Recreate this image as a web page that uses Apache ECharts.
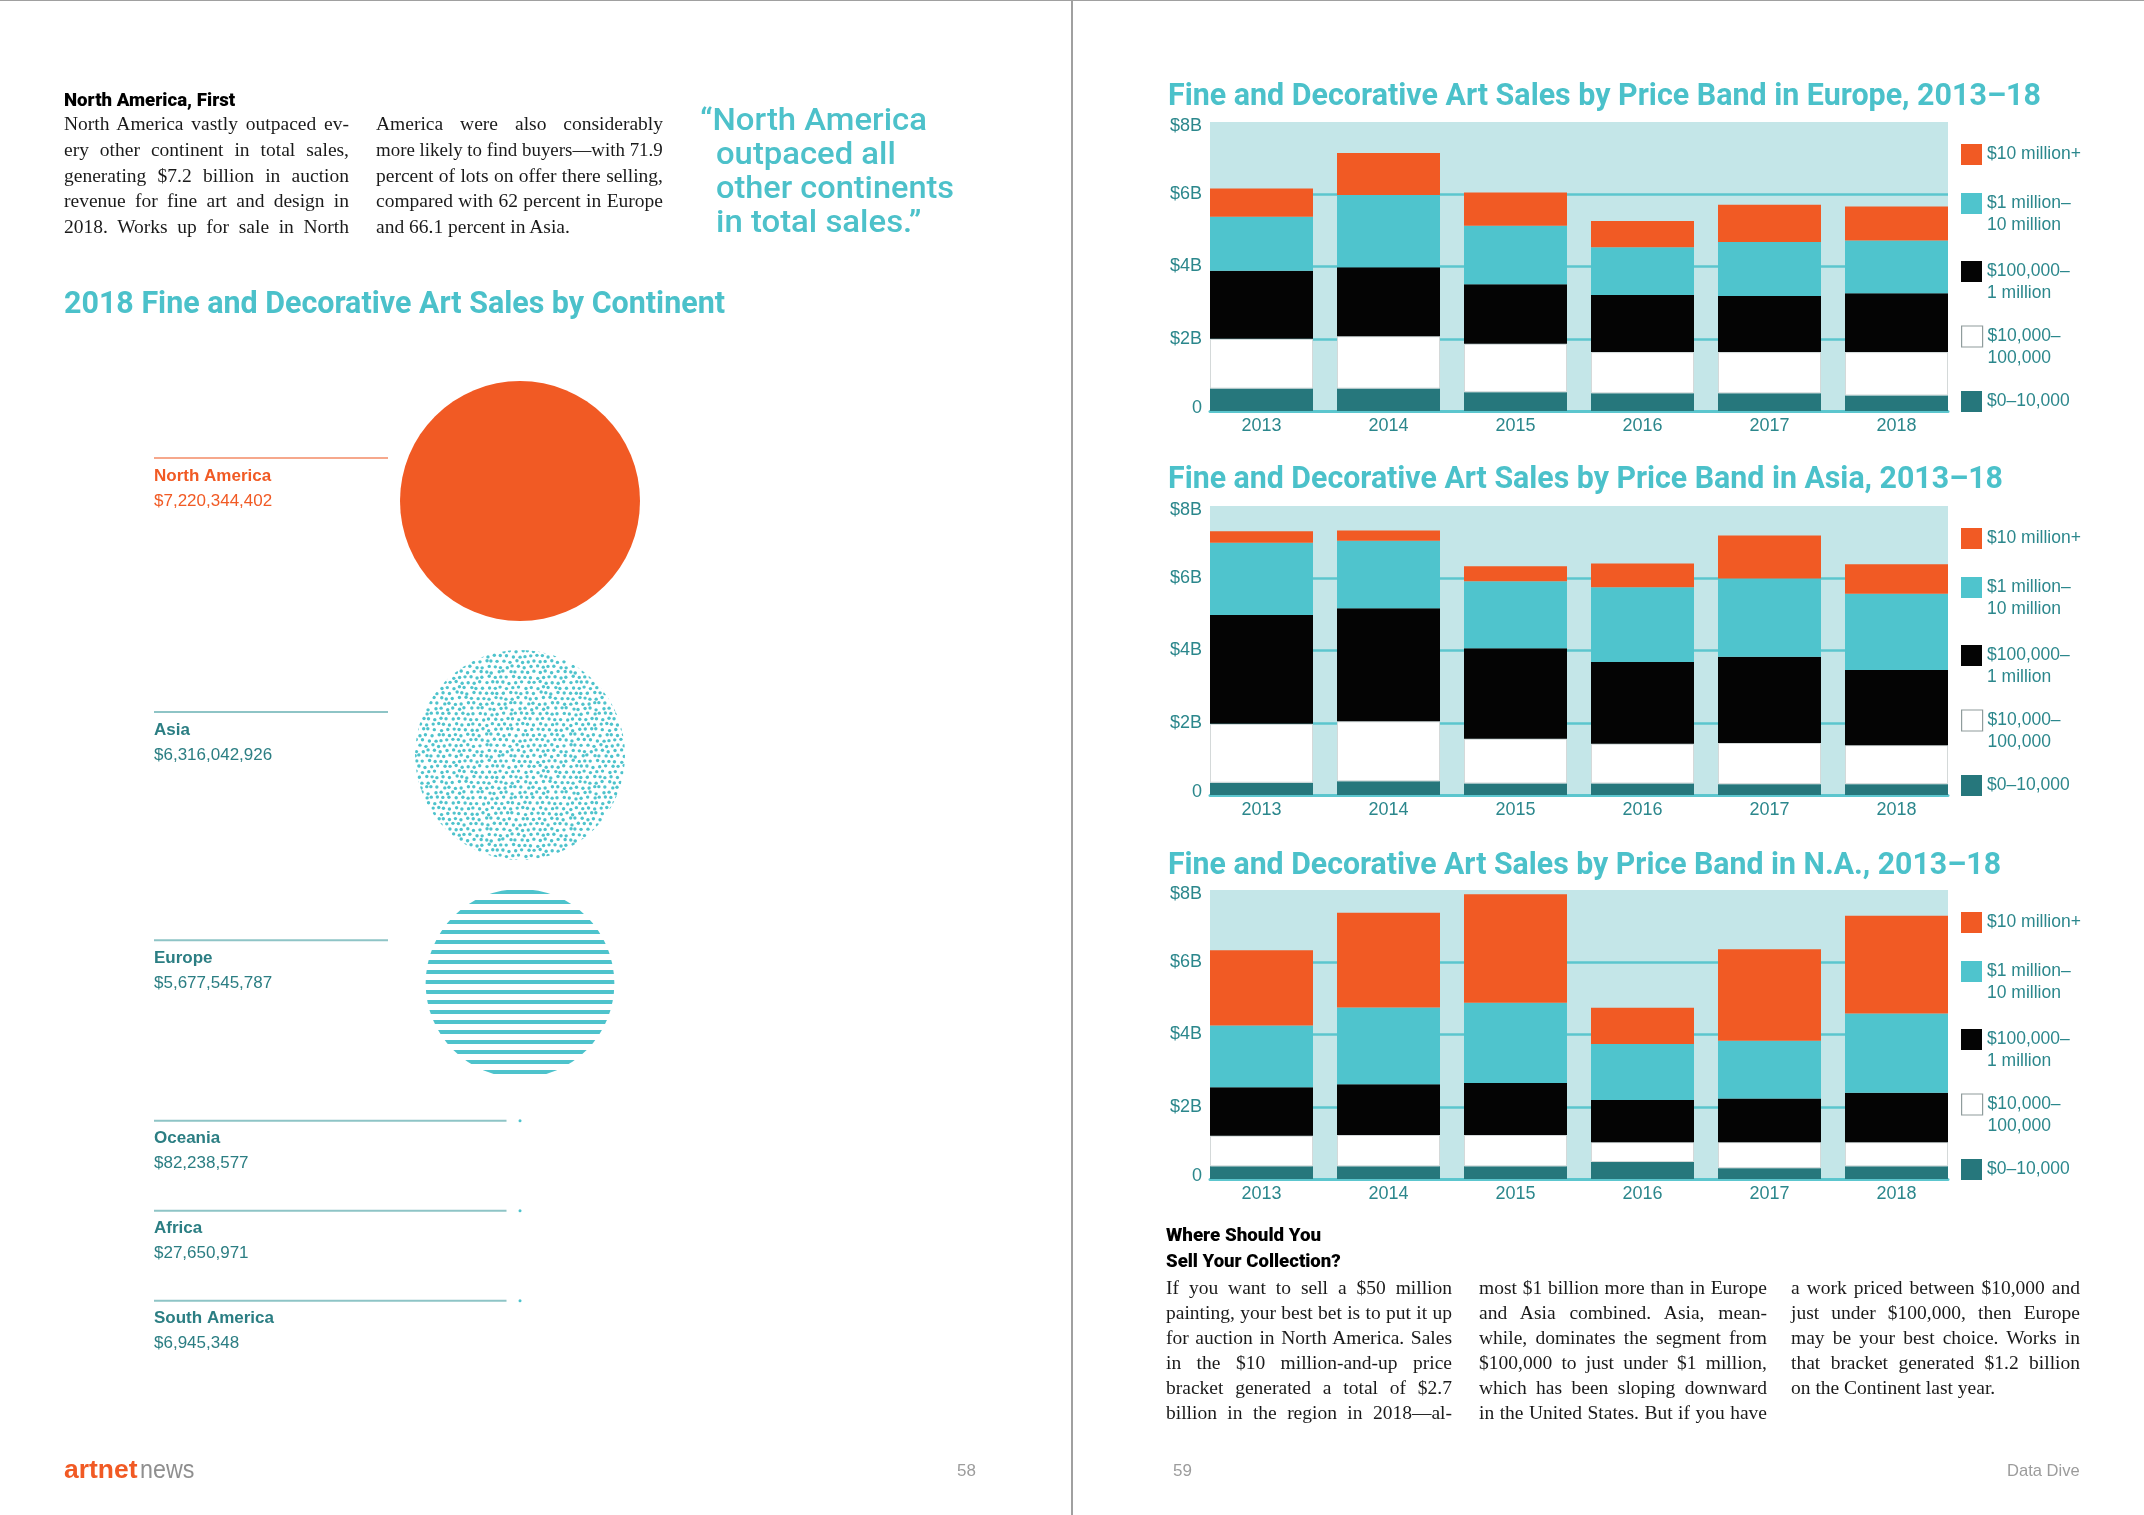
<!DOCTYPE html>
<html><head><meta charset="utf-8">
<script src="https://cdn.jsdelivr.net/npm/echarts@6/dist/echarts.min.js"></script>
<style>
html,body{margin:0;padding:0;background:#fff;}
#page{position:relative;width:2144px;height:1515px;overflow:hidden;background:#fff;}
#chart{position:absolute;left:0;top:0;width:2144px;height:1515px;}
.ln{position:absolute;font-family:'Liberation Serif','Times New Roman',serif;font-size:19.5px;color:#1a1a1a;text-align:justify;white-space:normal;}
.fit{position:absolute;white-space:nowrap;transform-origin:0 50%;}
.hd{font-family:Roboto,'Liberation Sans',sans-serif;font-weight:900;font-size:19px;color:#000;}
.qt{font-family:Roboto,'Liberation Sans',Arial,sans-serif;font-weight:500;font-size:31px;color:#4DC1CA;}
.ft{font-family:'Liberation Sans',Arial,sans-serif;font-size:17px;color:#9c9c9c;}
#spine{position:absolute;left:1071px;top:0;width:2px;height:1515px;background:#a0a0a0;}
#topline{position:absolute;left:0;top:0;width:2144px;height:1px;background:#a0a0a0;}
</style>
</head>
<body>
<div id="page">
  <div id="chart"></div>
  <div id="spine"></div>
  <div id="topline"></div>
</div>
<script>
// ---------------- DATA ----------------
const years = ['2013', '2014', '2015', '2016', '2017', '2018'];
const bandNames = ['$0–10,000', '$10,000–100,000', '$100,000–1 million', '$1 million–10 million', '$10 million+'];
const yTickLabels = ['0', '$2B', '$4B', '$6B', '$8B'];

// Europe, billions USD
const europe0to10k    = [0.62, 0.62, 0.52, 0.49, 0.49, 0.43];
const europe10kto100k = [1.38, 1.45, 1.34, 1.14, 1.14, 1.20];
const europe100kto1m  = [1.88, 1.91, 1.65, 1.58, 1.55, 1.63];
const europe1mto10m   = [1.50, 2.00, 1.62, 1.32, 1.50, 1.46];
const europe10mPlus   = [0.78, 1.16, 0.92, 0.73, 1.03, 0.94];
// Asia
const asia0to10k    = [0.34, 0.38, 0.32, 0.32, 0.30, 0.30];
const asia10kto100k = [1.63, 1.66, 1.24, 1.10, 1.14, 1.08];
const asia100kto1m  = [3.01, 3.13, 2.50, 2.26, 2.39, 2.08];
const asia1mto10m   = [2.00, 1.87, 1.86, 2.07, 2.16, 2.11];
const asia10mPlus   = [0.32, 0.28, 0.41, 0.66, 1.19, 0.82];
// North America
const na0to10k    = [0.35, 0.35, 0.35, 0.47, 0.30, 0.35];
const na10kto100k = [0.85, 0.87, 0.87, 0.55, 0.72, 0.67];
const na100kto1m  = [1.34, 1.40, 1.44, 1.17, 1.21, 1.37];
const na1mto10m   = [1.71, 2.13, 2.22, 1.55, 1.60, 2.19];
const na10mPlus   = [2.08, 2.62, 3.00, 1.00, 2.53, 2.71];

const regionTitles = [
  'Fine and Decorative Art Sales by Price Band in Europe, 2013–18',
  'Fine and Decorative Art Sales by Price Band in Asia, 2013–18',
  'Fine and Decorative Art Sales by Price Band in N.A., 2013–18'
];

const continents = ['North America', 'Asia', 'Europe', 'Oceania', 'Africa', 'South America'];
const continentSales = [7220344402, 6316042926, 5677545787, 82238577, 27650971, 6945348];

// ---------------- STYLE / LAYOUT ----------------
const regionBands = [
  [europe0to10k, europe10kto100k, europe100kto1m, europe1mto10m, europe10mPlus],
  [asia0to10k, asia10kto100k, asia100kto1m, asia1mto10m, asia10mPlus],
  [na0to10k, na10kto100k, na100kto1m, na1mto10m, na10mPlus]
];
const bandColors = ['#26777C', '#FFFFFF', '#040404', '#4FC4CD', '#F15A24'];
const bandLegendText = {
  '$0–10,000': '$0–10,000',
  '$10,000–100,000': '\n$10,000–\n100,000',
  '$100,000–1 million': '\n$100,000–\n1 million',
  '$1 million–10 million': '\n$1 million–\n10 million',
  '$10 million+': '$10 million+'
};
const teal = '#2B878C';
const titleCyan = '#4BC1CA';
const bgBlue = '#C4E6E8';
const gridCyan = '#5CC6CE';
const sansFont = "'Liberation Sans', Arial, sans-serif";

const plotLeft = 1210, plotW = 738, plotH = 289;
const chartTops = [122, 506, 890];
const barW = 103, barGap = 24;
const pitch = barW + barGap;
const dataLeft = plotLeft - barGap / 2, dataW = pitch * years.length;
const titleY = [97, 480, 866];
const titleW = [873, 835, 833];
const legendLeft = 1961;
const legendOffsets = [269, 204, 139, 71, 22]; // by band index (bottom band lowest)

const mctx = document.createElement('canvas').getContext('2d');
function fitScale(text, font, w) { mctx.font = font; return w / mctx.measureText(text).width; }
const titleFont = "bold 32px Roboto, 'Liberation Sans', sans-serif";
function titleEl(text, x, y, w) {
  return { type: 'text', x: x, y: y, scaleX: fitScale(text, titleFont, w), z: 10,
    style: { text: text, font: titleFont, fill: titleCyan, verticalAlign: 'middle' } };
}

const grids = [], xAxes = [], yAxes = [], series = [], legends = [], graphics = [];
chartTops.forEach((top, r) => {
  grids.push({ left: plotLeft, top: top, width: plotW, height: plotH, show: true,
    backgroundColor: bgBlue, borderWidth: 0, containLabel: false });
  xAxes.push({ type: 'category', gridIndex: grids.length - 1, data: years,
    axisLine: { show: true, lineStyle: { color: gridCyan, width: 3 } },
    axisTick: { show: false }, axisLabel: { show: false }, splitLine: { show: false } });
  yAxes.push({ type: 'value', gridIndex: grids.length - 1, min: 0, max: 8, interval: 2,
    axisLine: { show: false }, axisTick: { show: false },
    axisLabel: { color: teal, fontSize: 18, fontFamily: sansFont, margin: 8,
      formatter: v => {
        const i = Math.round(v / 2);
        if (i === 0) return '{lo|' + yTickLabels[i] + '}';
        if (i === yTickLabels.length - 1) return '{hi|' + yTickLabels[i] + '}';
        return yTickLabels[i];
      },
      rich: {
        lo: { color: teal, fontSize: 18, fontFamily: sansFont, padding: [0, 0, 6, 0] },
        hi: { color: teal, fontSize: 18, fontFamily: sansFont, padding: [8, 0, 0, 0] }
      } },
    splitLine: { show: true, lineStyle: { color: [gridCyan, gridCyan, gridCyan, gridCyan, 'rgba(0,0,0,0)'], width: 2.5 } } });
  grids.push({ left: dataLeft, top: top, width: dataW, height: plotH, show: false, containLabel: false });
  const gi = grids.length - 1;
  xAxes.push({ type: 'category', gridIndex: gi, data: years,
    axisLine: { show: false }, axisTick: { show: false },
    axisLabel: { color: teal, fontSize: 18, fontFamily: sansFont, margin: 6 } });
  yAxes.push({ type: 'value', gridIndex: gi, min: 0, max: 8, show: false });
  regionBands[r].forEach((vals, b) => {
    series.push({ type: 'bar', name: bandNames[b], xAxisIndex: xAxes.length - 1, yAxisIndex: yAxes.length - 1,
      stack: 'r' + r, barWidth: barW, data: vals,
      itemStyle: b === 1 ? { color: bandColors[b], borderColor: '#d4d9d9', borderWidth: 1 } : { color: bandColors[b] },
      silent: true, animation: false, z: 3 });
    const twoLine = bandLegendText[bandNames[b]].indexOf('\n') >= 0;
    const iconTop = top + legendOffsets[b];
    legends.push({ left: legendLeft, top: twoLine ? iconTop - 22.5 : iconTop - 0.5, padding: 0,
      selectedMode: false, icon: 'rect', itemWidth: 21, itemHeight: 21,
      data: [{ name: bandNames[b], itemStyle: b === 1 ? { borderColor: '#8f9c9c', borderWidth: 1.2 } : { borderWidth: 0 } }],
      formatter: n => bandLegendText[n],
      textStyle: { color: teal, fontSize: 17.5, fontFamily: sansFont, lineHeight: 22 } });
  });
  graphics.push(titleEl(regionTitles[r], 1168, titleY[r], titleW[r]));
});
graphics.push(titleEl('2018 Fine and Decorative Art Sales by Continent', 64, 305, 661));

// ---------- continent circles ----------
function makeDots() {
  const c = document.createElement('canvas'); const S = 84; c.width = S; c.height = S;
  const g = c.getContext('2d'); g.fillStyle = '#4EC3CC';
  const cols = 14, rows = 16, sx = S / cols, sy = S / rows;
  for (let j = 0; j < rows; j++) for (let i = 0; i < cols; i++) {
    const h1 = Math.sin(i * 12.9898 + j * 78.233) * 43758.5453; const h2 = Math.sin(i * 39.346 + j * 11.135) * 24634.6345;
    const jx = (h1 - Math.floor(h1) - 0.5) * 2.4, jy = (h2 - Math.floor(h2) - 0.5) * 2.2;
    const x = (i + (j % 2 ? 0.5 : 0)) * sx + jx, y = j * sy + jy;
    for (const ox of [-S, 0, S]) for (const oy of [-S, 0, S]) { g.beginPath(); g.arc(x + ox, y + oy, 1.7, 0, Math.PI * 2); g.fill(); }
  }
  return c;
}
function makeStripes() {
  const c = document.createElement('canvas'); c.width = 8; c.height = 10;
  const g = c.getContext('2d'); g.fillStyle = '#4EC3CC'; g.fillRect(0, 0, 8, 4); return c;
}
const fillByContinent = {
  'North America': '#F15A24',
  'Asia': { image: makeDots(), repeat: 'repeat' },
  'Europe': { image: makeStripes(), repeat: 'repeat' }
};
const smallFill = '#4EC3CC';
const circleCX = 520, circleTop = 381, circleMaxD = 240, rowMin = 28, rowGap = 29, minPitch = 90, bigD = 60;
const labelX = 154, lineEndMax = 388, lineOffset = 43;
const maxSale = Math.max(...continentSales);
const diam = continentSales.map(v => Math.max(3, v / maxSale * circleMaxD));
const centerY = [];
diam.forEach((d, i) => {
  if (i === 0) centerY.push(circleTop + d / 2);
  else centerY.push(centerY[i - 1] + Math.max(Math.max(diam[i - 1], rowMin) / 2 + Math.max(d, rowMin) / 2 + rowGap, minPitch));
});

series.push({
  type: 'custom', coordinateSystem: 'none', silent: true, animation: false,
  data: continentSales.map((v, i) => [i, v]),
  renderItem: function (params, api) {
    const i = api.value(0), v = api.value(1);
    const d = Math.max(3, v / maxSale * circleMaxD), r = d / 2;
    const cy = centerY[i];
    const big = d > bigD;
    const ly = cy - (big ? lineOffset : 0);
    const isNA = continents[i] === 'North America';
    const txt = isNA ? '#F15A24' : '#2B7E83';
    const lineC = isNA ? '#F6A88C' : '#8EC4C6';
    const fill = fillByContinent[continents[i]] || smallFill;
    return { type: 'group', children: [
      { type: 'circle', shape: { cx: circleCX, cy: cy, r: r }, style: { fill: fill } },
      { type: 'line', shape: { x1: labelX, y1: ly, x2: big ? lineEndMax : circleCX - r - 12, y2: ly },
        style: { stroke: lineC, lineWidth: 2 } },
      { type: 'text', x: labelX, y: ly + 18, style: { text: continents[i], fill: txt,
        font: "bold 17px 'Liberation Sans', Arial, sans-serif", verticalAlign: 'middle' } },
      { type: 'text', x: labelX, y: ly + 43, style: { text: '$' + v.toLocaleString('en-US'), fill: txt,
        font: "17px 'Liberation Sans', Arial, sans-serif", verticalAlign: 'middle' } }
    ] };
  }
});

const chart = echarts.init(document.getElementById('chart'));
chart.setOption({
  animation: false,
  backgroundColor: 'transparent',
  grid: grids, xAxis: xAxes, yAxis: yAxes, series: series, legend: legends,
  graphic: { elements: graphics }
});

// ---------------- HTML TEXT ----------------
const page = document.getElementById('page');
function fitEl(text, cls, x, cy, w, lh) {
  const d = document.createElement('div'); d.className = 'fit ' + cls; d.textContent = text;
  d.style.left = x + 'px'; d.style.lineHeight = lh + 'px'; d.style.top = (cy - lh / 2) + 'px';
  page.appendChild(d);
  if (w) { const nat = d.offsetWidth; d.style.transform = 'scaleX(' + (w / nat) + ')'; }
  return d;
}
function para(lines, x, top, lh, w, lastLeft) {
  lines.forEach((t, i) => {
    const d = document.createElement('div'); d.className = 'ln'; d.textContent = t;
    d.style.left = x + 'px'; d.style.top = (top + i * lh) + 'px'; d.style.lineHeight = lh + 'px';
    page.appendChild(d);
    d.style.whiteSpace = 'nowrap';
    const nat = d.offsetWidth;
    const last = lastLeft && i === lines.length - 1;
    if (nat > w) { d.style.transformOrigin = '0 50%'; d.style.transform = 'scaleX(' + (w / nat) + ')'; }
    else { d.style.whiteSpace = 'normal'; d.style.width = w + 'px'; d.style.textAlignLast = last ? 'left' : 'justify'; }
  });
}
fitEl('North America, First', 'hd', 64, 100, 171, 24);
para(['North America vastly outpaced ev-', 'ery other continent in total sales,', 'generating $7.2 billion in auction',
  'revenue for fine art and design in', '2018. Works up for sale in North'], 64, 111, 25.8, 285, false);
para(['America were also considerably', 'more likely to find buyers—with 71.9', 'percent of lots on offer there selling,',
  'compared with 62 percent in Europe', 'and 66.1 percent in Asia.'], 376, 111, 25.8, 287, true);
fitEl('“North America', 'qt', 700, 120, 227, 34);
fitEl('outpaced all', 'qt', 716, 154, 180, 34);
fitEl('other continents', 'qt', 716, 188, 238, 34);
fitEl('in total sales.”', 'qt', 716, 222, 206, 34);

fitEl('Where Should You', 'hd', 1166, 1235, 155, 24);
fitEl('Sell Your Collection?', 'hd', 1166, 1261, 175, 24);
para(['If you want to sell a $50 million', 'painting, your best bet is to put it up', 'for auction in North America. Sales',
  'in the $10 million-and-up price', 'bracket generated a total of $2.7', 'billion in the region in 2018—al-'], 1166, 1274.5, 25, 286, false);
para(['most $1 billion more than in Europe', 'and Asia combined. Asia, mean-', 'while, dominates the segment from',
  '$100,000 to just under $1 million,', 'which has been sloping downward', 'in the United States. But if you have'], 1479, 1274.5, 25, 288, false);
para(['a work priced between $10,000 and', 'just under $100,000, then Europe', 'may be your best choice. Works in',
  'that bracket generated $1.2 billion', 'on the Continent last year.'], 1791, 1274.5, 25, 289, true);

const a = fitEl('artnet', 'ft', 64, 1469, 0, 30);
a.style.color = '#F15A24'; a.style.fontWeight = 'bold'; a.style.fontSize = '25px';
a.style.transform = 'scaleX(' + (73 / a.offsetWidth) + ')';
const n = fitEl('news', 'ft', 140, 1469, 0, 30);
n.style.fontSize = '25px'; n.style.color = '#8f8f8f';
n.style.transform = 'scaleX(' + (54 / n.offsetWidth) + ')';
fitEl('58', 'ft', 957, 1471, 0, 24);
fitEl('59', 'ft', 1173, 1471, 0, 24);
fitEl('Data Dive', 'ft', 2007, 1471, 73, 24);
</script>
</body></html>
